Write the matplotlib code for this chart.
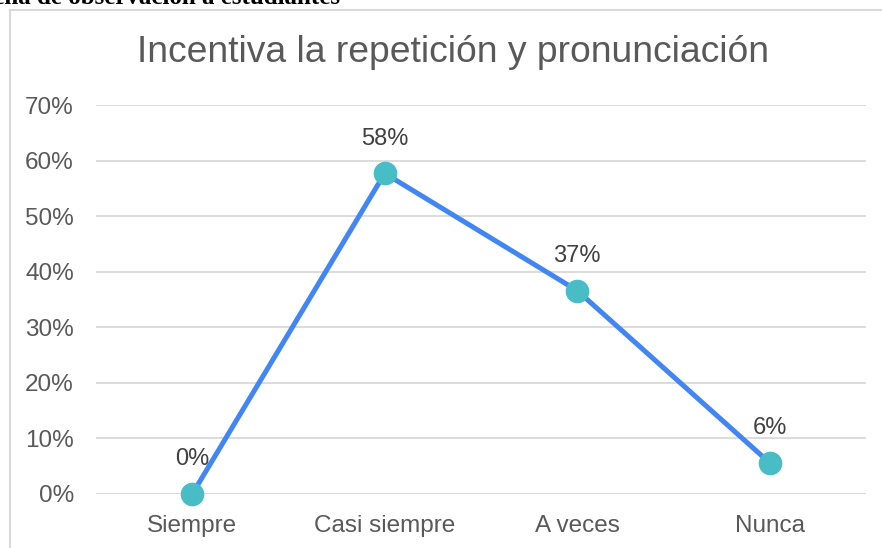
import matplotlib.pyplot as plt
from matplotlib.lines import Line2D

categories = ["Siempre", "Casi siempre", "A veces", "Nunca"]
values = [0.0, 0.577, 0.366, 0.056]
labels = ["0%", "58%", "37%", "6%"]
yticks = [0, 0.1, 0.2, 0.3, 0.4, 0.5, 0.6, 0.7]
ytick_labels = ["0%", "10%", "20%", "30%", "40%", "50%", "60%", "70%"]

plt.rcParams['font.family'] = ['Liberation Sans', 'DejaVu Sans']

fig = plt.figure(figsize=(8.82, 5.48), dpi=100)
ax = fig.add_axes([96 / 882, 1 - 494 / 548, 770 / 882, 389 / 548])

x = list(range(len(categories)))
ax.plot(x, values, color="#4285F4", linewidth=3.6, zorder=3,
        marker="o", markersize=16, markerfacecolor="#48BDC6",
        markeredgecolor="#48BDC6", clip_on=False)

for xi, v, lab in zip(x, values, labels):
    ax.annotate(lab, (xi, v), xytext=(0, 17), textcoords="offset points",
                ha="center", va="bottom", fontsize=17, color="#404040")

ax.set_xlim(-0.5, 3.5)
ax.set_ylim(0, 0.7)
ax.set_yticks(yticks)
ax.set_yticklabels(ytick_labels)
ax.set_xticks(x)
ax.set_xticklabels(categories)
ax.tick_params(length=0, labelsize=17.5, labelcolor="#595959")
ax.tick_params(axis="y", pad=16)
ax.tick_params(axis="x", pad=15)
ax.grid(axis="y", color="#D9D9D9", linewidth=1.3)
ax.set_axisbelow(True)
for s in ax.spines.values():
    s.set_visible(False)

fig.text(453 / 882, 1 - 52 / 548, "Incentiva la repetición y pronunciación",
         ha="center", va="center", fontsize=26.8, color="#595959")

# chart border (only left and top edges fall inside the image)
fig.add_artist(Line2D([10 / 882, 10 / 882], [0, 1 - 10 / 548],
                      transform=fig.transFigure, color="#D9D9D9", linewidth=1.5))
fig.add_artist(Line2D([10 / 882, 1], [1 - 10 / 548, 1 - 10 / 548],
                      transform=fig.transFigure, color="#D9D9D9", linewidth=1.5))

# caption of the document, cut off at the top edge
fig.text(340 / 882, 1 - 4.5 / 548, "Ficha de observación a estudiantes",
         ha="right", va="baseline", fontsize=18, fontweight="bold",
         family="Liberation Serif", color="black")

fig.savefig("out.png", dpi=100)
